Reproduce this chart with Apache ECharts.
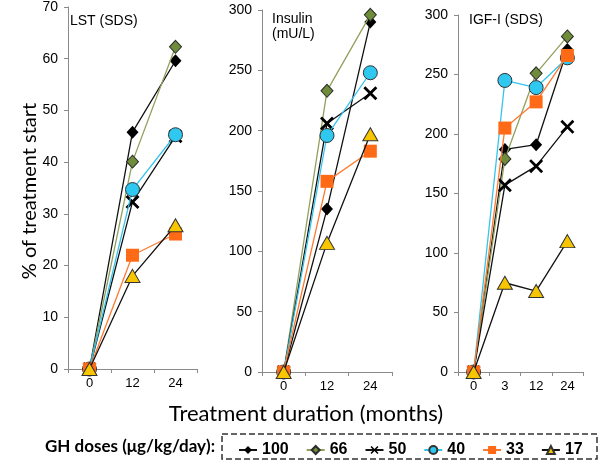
<!DOCTYPE html>
<html><head><meta charset="utf-8">
<script src="https://cdn.jsdelivr.net/npm/echarts@6/dist/echarts.min.js"></script>
<style>html,body{margin:0;padding:0;background:#fff}#c{width:600px;height:464px}</style>
</head><body><div id="c"></div><script>
// ---- data ----
const doses = ['100', '66', '50', '40', '33', '17'];
const lstMonths = ['0', '12', '24'];
const insulinMonths = ['0', '12', '24'];
const igfMonths = ['0', '3', '12', '24'];
// values per dose, in the order of `doses`
const lstValues = [[0, 45.8, 59.6], [0, 40.1, 62.3], [0, 32.3, 45.0], [0, 34.7, 45.3], [0, 22.0, 26.1], [0, 18.0, 27.8]];
const insulinValues = [[0, 135, 290], [0, 233, 296], [0, 206, 231], [0, 196, 248], [0, 158, 183], [0, 107, 197]];
const igfValues = [[0, 187, 191, 271], [0, 179, 251, 282], [0, 157, 173, 206], [0, 245, 239, 264], [0, 205, 227, 266], [0, 75, 68, 110]];
const panelTitles = ['LST (SDS)', 'Insulin\n(mU/L)', 'IGF-I (SDS)'];
const lstAxis = [0, 70, 10];
const otherAxis = [0, 300, 50];

// ---- styles ----
const X_PATH = 'path://M0,1.4L1.4,0L5,3.6L8.6,0L10,1.4L6.4,5L10,8.6L8.6,10L5,6.4L1.4,10L0,8.6L3.6,5Z';
const styles = [
  { symbol: 'diamond', size: [12, 13], fill: '#000000', border: '#000000', bw: 0, line: '#111111' },
  { symbol: 'diamond', size: [12, 13], fill: '#6e8c3a', border: '#2b2b2b', bw: 1, line: '#8fa15c' },
  { symbol: X_PATH, size: [14, 14], fill: '#000000', border: '#000000', bw: 0, line: '#111111' },
  { symbol: 'circle', size: 14, fill: '#2ec8f0', border: '#333333', bw: 1, line: '#33c4ee' },
  { symbol: 'rect', size: 13, fill: '#ff6a17', border: '#ff6a17', bw: 0, line: '#ff7a30' },
  { symbol: 'triangle', size: [15, 13], fill: '#f7c600', border: '#333333', bw: 1, line: '#111111' }
];

const grids = [
  { left: 68, top: 7, width: 129, height: 362 },
  { left: 262, top: 10, width: 130, height: 362 },
  { left: 458, top: 15, width: 125, height: 357 }
];
const cats = [lstMonths, insulinMonths, igfMonths];
const vals = [lstValues, insulinValues, igfValues];
const ranges = [lstAxis, otherAxis, otherAxis];

const axisCommon = {
  axisLine: { show: true, lineStyle: { color: '#8a8a8a', width: 1 } },
  axisTick: { show: true, length: 4, lineStyle: { color: '#8a8a8a' } },
  splitLine: { show: false }
};

const xAxis = cats.map((c, i) => Object.assign({}, axisCommon, {
  type: 'category', gridIndex: i, data: c, boundaryGap: true,
  axisLabel: { color: '#000', fontSize: 13, fontFamily: 'Liberation Sans, Arial', margin: 8 }
}));
const yAxis = ranges.map((r, i) => Object.assign({}, axisCommon, {
  type: 'value', gridIndex: i, min: r[0], max: r[1], interval: r[2],
  axisLabel: { color: '#000', fontSize: 14, fontFamily: 'Liberation Sans, Arial', margin: 10 }
}));

const series = [];
vals.forEach((v, gi) => {
  doses.forEach((d, di) => {
    const s = styles[di];
    series.push({
      type: 'line', name: d, xAxisIndex: gi, yAxisIndex: gi, data: v[di],
      symbol: s.symbol, symbolSize: s.size, showAllSymbol: true,
      itemStyle: { color: s.fill, borderColor: s.border, borderWidth: s.bw },
      lineStyle: { color: s.line, width: 1.3 },
      emphasis: { disabled: true }, silent: true, z: 2 + di
    });
  });
});

const graphic = [
  { type: 'text', left: 70, top: 14, style: { text: panelTitles[0], font: '14px Liberation Sans, Arial', fill: '#000' } },
  { type: 'text', left: 272, top: 12, style: { text: panelTitles[1], font: '14px Liberation Sans, Arial', fill: '#000', lineHeight: 15 } },
  { type: 'text', left: 469, top: 13, style: { text: panelTitles[2], font: '14px Liberation Sans, Arial', fill: '#000' } },
  { type: 'text', x: 30, y: 191, rotation: Math.PI / 2, style: { text: '% of treatment start', font: '20px Lato, Open Sans', fill: '#000', align: 'center', verticalAlign: 'middle' } },
  { type: 'text', x: 306, y: 414, style: { text: 'Treatment duration (months)', font: '22px Lato, Open Sans', fill: '#000', align: 'center', verticalAlign: 'middle' } },
  { type: 'text', x: 45, y: 447, style: { text: 'GH doses (μg/kg/day):', font: 'bold 17px Lato, Open Sans', fill: '#000', align: 'left', verticalAlign: 'middle' } },
  { type: 'rect', shape: { x: 222, y: 434, width: 375, height: 25 }, style: { fill: 'none', stroke: '#333', lineWidth: 1.5, lineDash: [6, 3] } }
];

const chart = echarts.init(document.getElementById('c'), null, { renderer: 'canvas' });
chart.setOption({
  animation: false,
  backgroundColor: '#fff',
  grid: grids,
  xAxis, yAxis, series, graphic,
  legend: {
    data: doses, left: 236, top: 440, padding: 2, itemWidth: 18, itemHeight: 10, itemGap: 17,
    selectedMode: false,
    textStyle: { color: '#000', fontSize: 16, fontWeight: 'bold', fontFamily: 'Liberation Sans, Arial' }
  }
});
</script></body></html>
